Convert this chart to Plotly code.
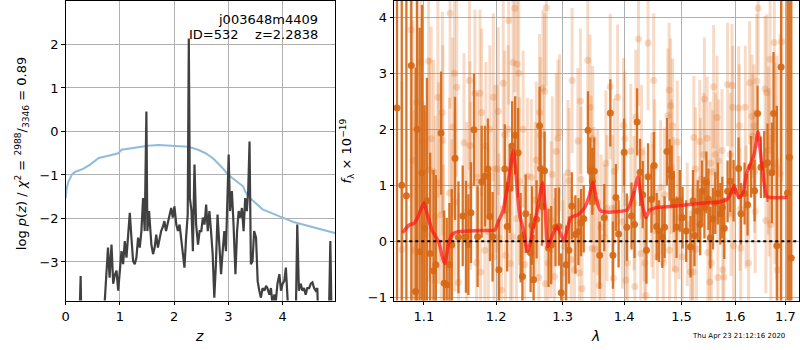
import plotly.graph_objects as go

# ---------------- left panel data ----------------
pz_z = [0.0, 0.25, 0.276, 0.29, 0.70, 0.72, 0.78, 0.81, 0.845, 0.876, 0.905, 0.937, 0.968, 0.998,
        1.029, 1.059, 1.09, 1.121, 1.151, 1.182, 1.212, 1.243, 1.274, 1.304, 1.335, 1.366, 1.396,
        1.427, 1.457, 1.488, 1.506, 1.537, 1.58, 1.611, 1.64, 1.67, 1.70, 1.73, 1.76, 1.79, 1.82,
        1.85, 1.88, 1.915, 1.945, 1.975, 2.005, 2.04, 2.07, 2.10, 2.13, 2.16, 2.19, 2.22, 2.25,
        2.27, 2.29, 2.32, 2.345, 2.375, 2.405, 2.44, 2.47, 2.50, 2.53, 2.56, 2.59, 2.62, 2.65,
        2.68, 2.71, 2.74, 2.77, 2.80, 2.835, 2.865, 2.895, 2.925, 2.955, 2.99, 3.005, 3.03, 3.065,
        3.095, 3.13, 3.16, 3.19, 3.22, 3.25, 3.28, 3.31, 3.34, 3.365, 3.39, 3.415, 3.445, 3.475,
        3.51, 3.54, 3.57, 3.60, 3.63, 3.665, 3.695, 3.72, 3.755, 3.785, 3.815, 3.845, 3.875, 3.905,
        3.94, 3.97, 4.0, 4.03, 4.06, 4.09, 4.12, 4.24, 4.27, 4.30, 4.335, 4.365, 4.395, 4.425,
        4.455, 4.49, 4.52, 4.55, 4.58, 4.61, 4.64, 4.66, 4.85, 4.88, 4.905, 4.97]
pz_logp = [-4.5, -4.5, -3.32, -4.5, -4.5, -3.9, -2.67, -3.36, -2.6, -3.5, -3.3, -3.2, -3.66, -3.2,
           -2.75, -3.05, -2.52, -2.9, -2.29, -1.87, -2.44, -2.98, -3.05, -2.9, -2.44, -2.67, -2.29,
           -1.53, -2.29, 0.46, -2.29, -1.83, -2.6, -2.82, -2.67, -2.37, -2.67, -2.44, -2.29, -2.2,
           -2.06, -2.29, -2.14, -1.91, -1.76, -1.98, -1.72, -2.14, -2.29, -2.14, -2.52, -2.82, -3.13,
           -2.44, -1.91, 2.14, -1.53, -1.83, -2.75, -0.76, -2.14, -2.6, -2.29, -2.29, -1.98, -2.14,
           -1.68, -2.29, -1.83, -2.29, -2.82, -3.82, -3.05, -1.91, -2.6, -3.28, -2.75, -2.29, -2.75,
           -1.15, -0.53, -1.83, -1.37, -2.14, -3.28, -2.29, -1.83, -1.98, -1.76, -2.29, -1.53, -1.83,
           -1.37, -0.23, -3.05, -2.98, -2.29, -2.44, -3.44, -3.66, -3.82, -3.6, -3.66, -3.55, -3.6,
           -3.75, -3.6, -4.0, -3.75, -3.9, -3.5, -3.28, -3.66, -3.5, -3.44, -3.13, -3.66, -4.5, -4.5,
           -2.14, -3.66, -3.5, -3.66, -3.6, -3.75, -3.6, -3.6, -3.5, -3.47, -3.6, -3.66, -3.6, -4.5,
           -4.5, -2.52, -4.5, -4.5]

chi_z = [0.0, 0.02, 0.05, 0.08, 0.12, 0.17, 0.25, 0.32, 0.45, 0.61, 0.75, 0.97, 1.03, 1.18, 1.52,
         1.71, 2.01, 2.26, 2.44, 2.58, 2.72, 2.90, 2.99, 3.15, 3.27, 3.31, 3.39, 3.63, 3.81, 4.0,
         4.2, 4.55, 4.98]
chi_val = [-1.53, -1.3, -1.15, -1.07, -0.98, -0.93, -0.9, -0.86, -0.76, -0.61, -0.57, -0.5, -0.42,
           -0.39, -0.33, -0.31, -0.33, -0.35, -0.42, -0.5, -0.62, -0.85, -0.99, -1.15, -1.26, -1.38,
           -1.52, -1.79, -1.89, -1.98, -2.08, -2.2, -2.34]

# ---------------- right panel data ----------------
dark_wave = [1.0649, 1.0710, 1.0770, 1.0834, 1.0890, 1.0910, 1.0943, 1.0974, 1.1009, 1.1040, 1.1083,
             1.1128, 1.1159, 1.1229, 1.1271, 1.1306, 1.1343, 1.1375, 1.1420, 1.1467, 1.1526, 1.1571,
             1.1605, 1.1641, 1.1683, 1.1735, 1.1792, 1.1839, 1.1881, 1.1910, 1.1948, 1.2039, 1.2125,
             1.2160, 1.2198, 1.2233, 1.2277, 1.2321, 1.2359, 1.2385, 1.2434, 1.2508, 1.2529, 1.2553,
             1.2598, 1.2644, 1.2659, 1.2680, 1.2720, 1.2781, 1.2822, 1.2889, 1.2941, 1.2977, 1.3055,
             1.3097, 1.3144, 1.3201, 1.3249, 1.3291, 1.3334, 1.3403, 1.3440, 1.3473, 1.3505, 1.3593,
             1.3668, 1.3768, 1.3811, 1.3861, 1.3906, 1.3999, 1.4044, 1.4124, 1.4175, 1.4219, 1.4270,
             1.4316, 1.4380, 1.4408, 1.4467, 1.4512, 1.4558, 1.4599, 1.4658, 1.4698, 1.4739, 1.4787,
             1.4822, 1.4863, 1.4911, 1.4970, 1.5019, 1.5085, 1.5163, 1.5209, 1.5236, 1.5296, 1.5340,
             1.5377, 1.5420, 1.5456, 1.5495, 1.5530, 1.5580, 1.5623, 1.5670, 1.5718, 1.5755, 1.5793,
             1.5856, 1.5907, 1.5971, 1.6067, 1.6114, 1.6184, 1.6242, 1.6309, 1.6380, 1.6439, 1.6506,
             1.6572, 1.6637, 1.6725, 1.6758, 1.6825, 1.6912, 1.7041, 1.7080, 1.7120]
dark_flux = [2.38, 1.0, 0.81, 3.14, -0.9, 2.0, -0.19, 1.22, 0.23, 0.72, -0.22,
             -0.53, -0.42, 1.93, -0.75, -0.78, -0.42, -0.07, 1.48, 0.07, 0.45, 0.08,
             -0.06, 0.51, 1.99, 0.08, 1.06, 1.16, 1.29, 0.44, 0.08, -0.51, 1.29,
             0.26, 0.94, 1.70, 1.89, 1.58, 0.06, -0.63, 0.49, -0.21, 0.28, -0.69,
             0.39, 2.06, 1.30, 0.62, 1.26, -0.12, -0.07, 0.25, 0.26, -0.92, -0.42,
             -0.16, 0.63, 0.12, 0.17, 0.33, 0.40, 1.98, 1.25, 1.07, 1.25, -0.25,
             0.42, 2.29, -0.25, 0.78, 0.13, 1.59, 0.25, 0.45, 0.30, 2.13, 1.23,
             0.83, -0.16, 1.15, 0.75, 1.35, 0.26, 0.18, 0.07, 0.25, 1.60, 1.27,
             1.16, 0.71, 0.25, 0.72, 0.42, 0.18, -0.10, 0.72, 0.10, 0.54, 0.30,
             0.89, 0.60, 1.05, 0.75, 0.06, 0.40, 0.68, 0.85, 0.49, 0.60, 0.23,
             0.89, 1.07, 0.90, 1.30, 0.49, 0.85, 0.65, 1.33, 0.90, 2.28, 1.32,
             1.37, 1.40, 1.22, 2.28, -0.08, 3.11, 0.86, 1.5, -0.3]
dark_err = [5, 5, 4, 5, 4, 4, 4, 3, 2.2, 2.2, 1.8,
            1.8, 1.6, 1.1, 1.3, 1.2, 1.1, 1.0, 1.1, 1.0, 0.9, 1.0,
            0.9, 0.9, 1.0, 0.9, 1.0, 0.9, 0.9, 0.8, 0.8, 0.9, 0.8,
            0.8, 0.8, 0.8, 0.7, 0.8, 0.8, 0.8, 0.7, 0.7, 0.7, 0.8,
            0.7, 0.7, 0.7, 0.7, 0.7, 0.7, 0.7, 0.7, 0.7, 0.7, 0.7,
            0.6, 0.6, 0.7, 0.6, 0.6, 0.6, 0.7, 0.6, 0.6, 0.6, 0.6,
            0.6, 0.6, 0.6, 0.6, 0.6, 0.6, 0.6, 0.6, 0.6, 0.6, 0.6,
            0.6, 0.6, 0.6, 0.6, 0.6, 0.6, 0.55, 0.55, 0.55, 0.6, 0.55,
            0.55, 0.55, 0.55, 0.55, 0.55, 0.55, 0.55, 0.55, 0.55, 0.55, 0.55,
            0.55, 0.55, 0.55, 0.55, 0.55, 0.55, 0.55, 0.55, 0.55, 0.55, 0.55,
            0.55, 0.55, 0.55, 0.55, 0.55, 0.55, 0.55, 0.55, 0.55, 0.5, 0.55,
            0.6, 0.7, 0.9, 1.1, 2.5, 5, 6, 6, 6]

light_wave = [1.0713, 1.0830, 1.0855, 1.0864, 1.0907, 1.0960, 1.0974, 1.0987, 1.1017, 1.1062, 1.1070,
              1.1097, 1.1129, 1.1150, 1.1186, 1.1195, 1.1230, 1.1247, 1.1253, 1.1263, 1.1344, 1.1352,
              1.1375, 1.1388, 1.1412, 1.1420, 1.1443, 1.1467, 1.1544, 1.1582, 1.1619, 1.1627, 1.1637,
              1.1697, 1.1721, 1.1731, 1.1767, 1.1777, 1.1791, 1.1838, 1.1852, 1.1886, 1.1909, 1.1958,
              1.1969, 1.1981, 1.2013, 1.2030, 1.2039, 1.2077, 1.2102, 1.2125, 1.2135, 1.2174, 1.2183,
              1.2208, 1.2233, 1.2247, 1.2271, 1.2296, 1.2307, 1.2330, 1.2341, 1.2396, 1.2419, 1.2460,
              1.2519, 1.2579, 1.2594, 1.2632, 1.2644, 1.2655, 1.2695, 1.2720, 1.2731, 1.2746, 1.2772,
              1.2822, 1.2838, 1.2873, 1.2900, 1.2926, 1.2951, 1.3003, 1.3028, 1.3082, 1.3102, 1.3134,
              1.3149, 1.3186, 1.3240, 1.3265, 1.3281, 1.3291, 1.3307, 1.3399, 1.3436, 1.3452, 1.3465,
              1.3479, 1.3495, 1.3516, 1.3560, 1.3586, 1.3614, 1.3667, 1.3695, 1.3712, 1.3766, 1.3806,
              1.3819, 1.3833, 1.3889, 1.3972, 1.3989, 1.4011, 1.4028, 1.4056, 1.4112, 1.4168, 1.4180,
              1.4197, 1.4243, 1.4282, 1.4294, 1.4338, 1.4351, 1.4368, 1.4408, 1.4472, 1.4498, 1.4506,
              1.4524, 1.4571, 1.4628, 1.4675, 1.4698, 1.4756, 1.4778, 1.4786, 1.4804, 1.4818, 1.4840,
              1.4854, 1.4894, 1.4924, 1.4953, 1.5014, 1.5104, 1.5164, 1.5195, 1.5209, 1.5224, 1.5255,
              1.5273, 1.5334, 1.5346, 1.5407, 1.5420, 1.5470, 1.5484, 1.5518, 1.5531, 1.5549, 1.5577,
              1.5592, 1.5624, 1.5656, 1.5671, 1.5686, 1.5750, 1.5765, 1.5784, 1.5856, 1.5908, 1.5923,
              1.5940, 1.5956, 1.5971, 1.6068, 1.6081, 1.6097, 1.6110, 1.6198, 1.6213, 1.6262, 1.6281,
              1.6328, 1.6342, 1.6368, 1.6381, 1.6391, 1.6424, 1.6450, 1.6588, 1.6604, 1.6622, 1.6654,
              1.6668, 1.6688, 1.6704, 1.6774, 1.6788, 1.6823, 1.6839, 1.6890, 1.6924]
light_flux = [-0.15, 3.77, 1.44, -0.16, 2.48, 3.20, 1.79, 0.30, 0.12, 3.22, 1.27,
              1.83, 1.24, 0.44, 2.57, 1.04, 0.47, 2.30, 1.80, -0.33, 0.86, 4.07,
              0.12, 2.04, 3.00, 0.70, 2.75, -0.74, 1.76, 0.53, 2.87, 1.71, 0.99,
              2.64, -0.39, 1.14, 2.64, -0.55, 2.30, -0.16, 1.70, 0.17, 2.00, 2.57,
              -0.28, 1.29, 1.29, 2.32, 0.06, -0.87, 2.82, 1.90, -0.25, 2.00, 3.94,
              -0.40, 0.08, 3.19, 4.16, 0.40, 3.16, 3.00, 1.07, 2.00, -0.42, 1.16,
              1.14, 0.73, 1.45, -0.65, 2.30, 1.89, 2.73, 2.68, -0.76, 4.17, -0.39,
              0.38, 1.19, -0.63, 1.60, 1.84, 1.94, -0.57, -0.09, 1.22, 1.08, -0.33,
              2.87, -0.51, 1.79, -0.57, 2.50, 1.10, -0.85, 3.23, 2.39, 1.30, -0.13,
              1.83, 0.74, -0.14, 0.69, -0.79, 0.25, 0.07, 1.39, 0.59, 2.76, 0.59,
              -0.66, 1.25, 2.57, 0.35, 2.07, 1.83, -0.70, -0.39, 1.61, 0.68, -0.81,
              2.22, 3.61, -0.22, 1.59, 0.48, -0.39, -0.97, 3.54, 0.74, 0.53, 2.87,
              1.33, -0.28, 0.96, -0.39, 0.83, 2.24, 2.70, -0.16, 2.42, 1.33, 2.06,
              0.66, -0.50, 1.77, 0.42, -0.28, 0.30, -0.55, -0.14, -0.55, 1.85, 1.29,
              -0.14, 1.78, 1.10, 1.55, 2.54, 1.84, -0.20, -0.73, 1.39, -0.39, 1.24,
              2.76, 1.55, 2.21, -0.65, 1.43, 1.62, -0.51, -0.64, 2.80, 1.55, 0.48,
              2.78, 2.39, -0.08, 2.38, 2.06, 0.57, -0.12, 2.39, 0.61, -0.39, 2.83,
              2.23, 1.88, 2.06, 1.25, 0.53, 2.86, 4.16, 2.72, 0.37, 2.65, 1.62,
              1.23, 3.25, 0.30, 3.55, 1.39, 1.31, -0.51, 1.21, 3.56]
light_err = [3, 3, 2.5, 2.5, 2.5, 2.5, 2.2, 2.2, 2.2, 2.0, 2.0,
             2.0, 2.0, 1.8, 1.8, 1.8, 1.8, 1.8, 1.7, 1.7, 1.7, 1.7,
             1.7, 1.6, 1.6, 1.6, 1.6, 1.6, 1.6, 1.6, 1.6, 1.5, 1.5,
             1.5, 1.5, 1.5, 1.5, 1.5, 1.5, 1.5, 1.5, 1.5, 1.5, 1.5,
             1.5, 1.5, 1.5, 1.5, 1.5, 1.5, 1.5, 1.5, 1.5, 1.5, 1.5,
             1.5, 1.5, 1.5, 1.5, 1.5, 1.5, 1.5, 1.5, 1.4, 1.4, 1.4,
             1.4, 1.4, 1.4, 1.4, 1.4, 1.4, 1.4, 1.4, 1.4, 1.4, 1.4,
             1.4, 1.4, 1.4, 1.4, 1.4, 1.4, 1.3, 1.3, 1.3, 1.3, 1.3,
             1.3, 1.3, 1.3, 1.3, 1.3, 1.3, 1.3, 1.3, 1.3, 1.3, 1.3,
             1.3, 1.3, 1.3, 1.3, 1.3, 1.3, 1.3, 1.3, 1.3, 1.3, 1.3,
             1.3, 1.3, 1.3, 1.2, 1.2, 1.2, 1.2, 1.2, 1.2, 1.2, 1.2,
             1.2, 1.2, 1.2, 1.2, 1.2, 1.2, 1.2, 1.2, 1.2, 1.2, 1.2,
             1.2, 1.2, 1.2, 1.2, 1.2, 1.2, 1.2, 1.2, 1.2, 1.2, 1.2,
             1.2, 1.2, 1.1, 1.1, 1.1, 1.1, 1.1, 1.1, 1.1, 1.1, 1.1,
             1.1, 1.1, 1.1, 1.1, 1.1, 1.1, 1.1, 1.1, 1.1, 1.1, 1.1,
             1.1, 1.1, 1.1, 1.1, 1.1, 1.1, 1.1, 1.1, 1.1, 1.1, 1.1,
             1.1, 1.1, 1.1, 1.1, 1.1, 1.1, 1.1, 1.1, 1.1, 1.1, 1.1,
             1.1, 1.1, 1.1, 1.1, 1.1, 1.2, 1.2, 1.3, 1.3, 1.4, 1.5,
             1.5, 1.6, 1.6, 1.8, 1.8, 2.0, 2.0, 2.5, 2.5]

model_wave = [1.072, 1.080, 1.088, 1.094, 1.100, 1.105, 1.111, 1.120, 1.124, 1.128, 1.133, 1.138,
              1.146, 1.160, 1.180, 1.198, 1.203, 1.210, 1.216, 1.221, 1.225, 1.229, 1.234, 1.240,
              1.246, 1.250, 1.255, 1.260, 1.265, 1.269, 1.273, 1.277, 1.284, 1.291, 1.296, 1.302,
              1.308, 1.313, 1.325, 1.335, 1.342, 1.348, 1.354, 1.360, 1.370, 1.390, 1.405, 1.413,
              1.419, 1.423, 1.428, 1.433, 1.437, 1.443, 1.455, 1.480, 1.510, 1.540, 1.570, 1.585,
              1.593, 1.598, 1.603, 1.608, 1.615, 1.622, 1.630, 1.637, 1.645, 1.650, 1.656, 1.662,
              1.670, 1.704]
model_flux = [0.15, 0.28, 0.33, 0.50, 0.68, 0.45, 0.19, -0.02, -0.25, -0.40, -0.05, 0.12,
              0.17, 0.18, 0.19, 0.20, 0.35, 0.55, 0.95, 1.35, 1.62, 1.20, 0.50, 0.20,
              -0.18, -0.05, 0.25, 0.50, 0.85, 1.05, 0.55, -0.10, 0.10, 0.27, 0.15, 0.00,
              0.25, 0.42, 0.48, 0.60, 0.80, 1.05, 0.75, 0.55, 0.52, 0.53, 0.56, 0.75,
              0.98, 1.15, 0.85, 0.55, 0.42, 0.55, 0.60, 0.62, 0.65, 0.68, 0.70, 0.75,
              0.88, 1.00, 0.85, 0.78, 0.85, 1.20, 1.38, 1.55, 1.95, 1.55, 1.10, 0.80,
              0.78, 0.78]

left_xticks = [0, 1, 2, 3, 4]
left_yticks = [-3, -2, -1, 0, 1, 2]
right_xticks = [1.1, 1.2, 1.3, 1.4, 1.5, 1.6, 1.7]
right_xticklabels = ["1.1", "1.2", "1.3", "1.4", "1.5", "1.6", "1.7"]
right_yticks = [-1, 0, 1, 2, 3, 4]

ORANGE = "rgba(214,104,22,0.92)"
ORANGE_LIGHT = "rgba(222,112,32,0.25)"
FONT = "DejaVu Sans"

fig = go.Figure()

fig.add_trace(go.Scatter(x=chi_z, y=chi_val, mode="lines", line=dict(color="#8fbcdb", width=2),
                         xaxis="x", yaxis="y", showlegend=False, hoverinfo="skip"))
fig.add_trace(go.Scatter(x=pz_z, y=pz_logp, mode="lines", line=dict(color="#404040", width=2.2),
                         xaxis="x", yaxis="y", showlegend=False, hoverinfo="skip"))

fig.add_trace(go.Scatter(x=light_wave, y=light_flux, mode="markers",
                         marker=dict(color=ORANGE_LIGHT, size=7),
                         error_y=dict(type="data", array=light_err, color=ORANGE_LIGHT,
                                      thickness=3, width=0),
                         xaxis="x2", yaxis="y2", showlegend=False, hoverinfo="skip"))
fig.add_trace(go.Scatter(x=dark_wave, y=dark_flux, mode="markers",
                         marker=dict(color=ORANGE, size=7),
                         error_y=dict(type="data", array=dark_err, color=ORANGE,
                                      thickness=2.3, width=0),
                         xaxis="x2", yaxis="y2", showlegend=False, hoverinfo="skip"))
fig.add_trace(go.Scatter(x=model_wave, y=model_flux, mode="lines",
                         line=dict(color="rgba(255,20,20,0.7)", width=3.5, shape="spline",
                                   smoothing=0.6),
                         xaxis="x2", yaxis="y2", showlegend=False, hoverinfo="skip"))

fig.add_shape(type="line", xref="x2 domain", yref="y2", x0=0.008, x1=1.0, y0=0, y1=0,
              line=dict(color="black", width=2, dash="dot"), layer="above")

ax_common = dict(showline=True, linecolor="black", linewidth=1, mirror=True,
                 ticks="outside", ticklen=3.5, tickwidth=1, tickcolor="black",
                 showgrid=True, gridcolor="#b0b0b0", gridwidth=1, zeroline=False,
                 tickfont=dict(family=FONT, size=13, color="black"))

fig.update_layout(
    width=800, height=350,
    margin=dict(l=0, r=0, t=0, b=0),
    paper_bgcolor="white", plot_bgcolor="white",
    font=dict(family=FONT, size=13, color="black"),
    xaxis=dict(domain=[62 / 800, 333 / 800], range=[0, 4.972], tickvals=left_xticks,
               anchor="y", **ax_common),
    yaxis=dict(domain=[1 - 304 / 350, 1 - 1 / 350], range=[-3.886, 3.0], tickvals=left_yticks,
               anchor="x", **ax_common),
    xaxis2=dict(domain=[392 / 800, 799 / 800], type="log", range=[0.02576, 0.23754],
                tickvals=right_xticks, ticktext=right_xticklabels, anchor="y2", **ax_common),
    yaxis2=dict(domain=[1 - 304 / 350, 1 - 1 / 350], range=[-1.06, 4.29], tickvals=right_yticks,
                anchor="x2", **ax_common),
)

ann = [
    dict(text="j003648m4409", x=318 / 800, y=1 - 20 / 350, xanchor="right", yanchor="middle",
         font=dict(size=13)),
    dict(text="ID=532\u00a0\u00a0\u00a0\u00a0z=2.2838", x=318 / 800, y=1 - 35 / 350,
         xanchor="right", yanchor="middle", font=dict(size=13)),
    dict(text="<i>z</i>", x=196 / 800, y=1 - 340 / 350, xanchor="center", yanchor="middle",
         font=dict(size=14)),
    dict(text="<i>λ</i>", x=594 / 800, y=1 - 340 / 350, xanchor="center", yanchor="middle",
         font=dict(size=14)),
    dict(text="log <i>p</i>(<i>z</i>) / <i>χ</i><sup>2</sup> = <sup>2988</sup>/<sub>3346</sub> = 0.89",
         x=18 / 800, y=1 - 155 / 350, xanchor="center", yanchor="middle", textangle=-90,
         font=dict(size=13)),
    dict(text="<i>f</i><sub>λ</sub> × 10<sup>−19</sup>", x=345 / 800, y=1 - 153 / 350,
         xanchor="center", yanchor="middle", textangle=-90, font=dict(size=13)),
    dict(text="Thu Apr 23 21:12:16 2020", x=787 / 800, y=1 - 340 / 350, xanchor="right",
         yanchor="middle", font=dict(size=7)),
]
for a in ann:
    a.update(xref="paper", yref="paper", showarrow=False)
    fig.add_annotation(**a)

fig.write_html("out.html")
